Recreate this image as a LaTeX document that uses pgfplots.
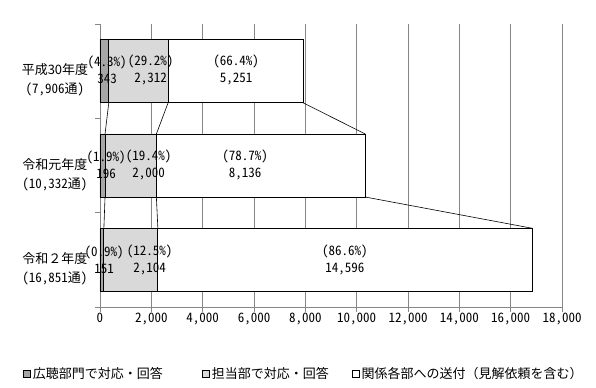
\documentclass[border=0pt]{standalone}
\usepackage{pgfplots}
\pgfplotsset{compat=1.18}
\usepackage{fontspec}
\setmainfont{Noto Sans CJK JP}
\newfontfamily\hwfont{Noto Sans CJK JP}[RawFeature=+hwid]
\definecolor{dgray}{RGB}{166,166,166}
\definecolor{lgray}{RGB}{217,217,217}
\definecolor{gridc}{RGB}{134,134,134}
\newcommand{\myfs}{\fontsize{13bp}{17bp}\selectfont}
\newcommand{\myfc}{\fontsize{13bp}{19bp}\selectfont}
\begin{document}
\begin{tikzpicture}
\begin{axis}[
  scale only axis, width=462bp, height=283bp,
  xmin=0, xmax=18000, ymin=-0.5, ymax=2.5,
  xbar stacked, bar width=0.668,
  axis x line*=bottom, axis y line*=left,
  axis line style={gridc, line width=0.8bp},
  xtick={0,2000,4000,6000,8000,10000,12000,14000,16000,18000},
  ytick={-0.5,0.5,1.5,2.5}, yticklabels={},
  tick align=outside, major tick length=4.5bp,
  tick style={gridc, line width=0.8bp},
  xmajorgrids, grid style={gridc, line width=0.8bp},
  scaled x ticks=false,
  xticklabel style={font=\hwfont\myfs, inner sep=1bp},
  xticklabel={\pgfmathprintnumber[1000 sep={,}, assume math mode=true]{\tick}},
  legend image code/.code={\draw[#1] (0bp,-3.5bp) rectangle (7bp,3.5bp);},
  legend cell align=left,
  legend style={draw=none, fill=none, inner sep=0pt, legend columns=3,
    at={(-0.1667,-0.2367)}, anchor=west, font=\myfs,
    /tikz/every even column/.append style={column sep=0pt}},
  clip=false,
]
\addplot[fill=dgray, draw=black, line width=0.8bp] coordinates {(343,2) (196,1) (151,0)};
\addplot[fill=lgray, draw=black, line width=0.8bp] coordinates {(2312,2) (2000,1) (2104,0)};
\addplot[fill=white, draw=black, line width=0.8bp] coordinates {(5251,2) (8136,1) (14596,0)};
\addlegendentry{\makebox[167bp][l]{広聴部門で対応・回答}}
\addlegendentry{\makebox[138bp][l]{担当部で対応・回答}}
\addlegendentry{関係各部への送付（見解依頼を含む）}
\node[font=\myfc, align=center, inner sep=0pt, xshift=-45bp, yshift=-9bp] at (axis cs:0,2) {平成30年度\\{\hwfont (7,906通)}};
\node[font=\myfc, align=center, inner sep=0pt, xshift=-45bp, yshift=-9bp] at (axis cs:0,1) {令和元年度\\{\hwfont (10,332通)}};
\node[font=\myfc, align=center, inner sep=0pt, xshift=-45bp, yshift=-9bp] at (axis cs:0,0) {令和２年度\\{\hwfont (16,851通)}};
\coordinate (A) at (axis cs:0,-0.5);
\coordinate (B) at (axis cs:18000,2.5);
\end{axis}
\begin{axis}[
  scale only axis, width=462bp, height=283bp,
  xmin=0, xmax=18000, ymin=-0.5, ymax=2.5,
  hide axis, clip=false,
]
\addplot[black, line width=0.6bp, no marks] coordinates {(343,1.666) (196,1.334)};
\addplot[black, line width=0.6bp, no marks] coordinates {(2655,1.666) (2196,1.334)};
\addplot[black, line width=0.6bp, no marks] coordinates {(7906,1.666) (10332,1.334)};
\addplot[black, line width=0.6bp, no marks] coordinates {(196,0.666) (151,0.334)};
\addplot[black, line width=0.6bp, no marks] coordinates {(2196,0.666) (2255,0.334)};
\addplot[black, line width=0.6bp, no marks] coordinates {(10332,0.666) (16851,0.334)};
\node[font=\hwfont\myfs, align=center, inner sep=0pt] at (axis cs:273,2.01) {(4.3\%)\\343};
\node[font=\hwfont\myfs, align=center, inner sep=0pt] at (axis cs:1968,2.01) {(29.2\%)\\2,312};
\node[font=\hwfont\myfs, align=center, inner sep=0pt] at (axis cs:5300,2.01) {(66.4\%)\\5,251};
\node[font=\hwfont\myfs, align=center, inner sep=0pt] at (axis cs:234,1.01) {(1.9\%)\\196};
\node[font=\hwfont\myfs, align=center, inner sep=0pt] at (axis cs:1890,1.01) {(19.4\%)\\2,000};
\node[font=\hwfont\myfs, align=center, inner sep=0pt] at (axis cs:5650,1.01) {(78.7\%)\\8,136};
\node[font=\hwfont\myfs, align=center, inner sep=0pt] at (axis cs:156,0.0) {(0.9\%)\\151};
\node[font=\hwfont\myfs, align=center, inner sep=0pt] at (axis cs:1930,0.0) {(12.5\%)\\2,104};
\node[font=\hwfont\myfs, align=center, inner sep=0pt] at (axis cs:9545,0.0) {(86.6\%)\\14,596};
\end{axis}
\pgfresetboundingbox
\path ([shift={(-100bp,-81bp)}]A) rectangle ([shift={(34bp,24bp)}]B);
\end{tikzpicture}
\end{document}
